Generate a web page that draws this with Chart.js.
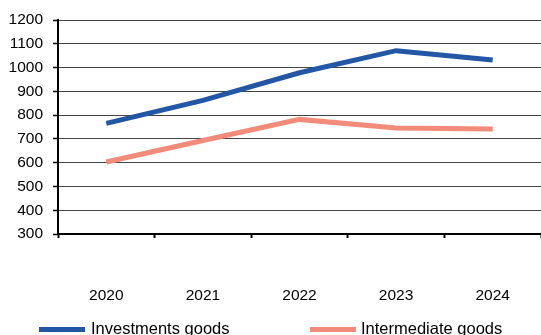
<!DOCTYPE html>
<html>
<head>
<meta charset="utf-8">
<script src="https://cdn.jsdelivr.net/npm/chart.js@4/dist/chart.umd.min.js"></script>
<style>
  html, body { margin: 0; padding: 0; background: #ffffff; }
  #wrap { width: 541px; height: 335px; overflow: hidden; }
</style>
</head>
<body>
<div id="wrap"><canvas id="c" width="541" height="335"></canvas></div>
<script>
// Goods categories by year
const years = ['2020', '2021', '2022', '2023', '2024'];
const investmentsGoods = [765, 862, 978, 1071, 1032];
const intermediateGoods = [603, 693, 782, 746, 742];
const seriesNames = ['Investments goods', 'Intermediate goods'];
const yMin = 300;
const yMax = 1200;
const yStep = 100;

const BLUE = '#2356a4';
const SALMON = '#f28b79';
const FONT = '"Liberation Sans", Arial, sans-serif';

// Legend drawn under the category labels, two entries spread across the width
const spreadLegend = {
  id: 'spreadLegend',
  afterDraw(chart) {
    const ctx = chart.ctx;
    const slots = [{ x: 39, text: 91 }, { x: 310, text: 361 }];
    ctx.save();
    chart.data.datasets.forEach((ds, i) => {
      const s = slots[i];
      ctx.fillStyle = ds.borderColor;
      ctx.fillRect(s.x, 327, 46, 5);
      ctx.fillStyle = '#000000';
      ctx.font = '16.5px ' + FONT;
      ctx.textBaseline = 'alphabetic';
      ctx.textAlign = 'left';
      ctx.fillText(ds.label, s.text, 334);
    });
    ctx.restore();
  }
};

new Chart(document.getElementById('c'), {
  type: 'line',
  data: {
    labels: years,
    datasets: [
      {
        label: seriesNames[0],
        data: investmentsGoods,
        borderColor: BLUE,
        backgroundColor: BLUE,
        borderWidth: 5,
        borderCapStyle: 'butt',
        pointRadius: 0,
        tension: 0,
        fill: false
      },
      {
        label: seriesNames[1],
        data: intermediateGoods,
        borderColor: SALMON,
        backgroundColor: SALMON,
        borderWidth: 5,
        borderCapStyle: 'butt',
        pointRadius: 0,
        tension: 0,
        fill: false
      }
    ]
  },
  options: {
    responsive: false,
    animation: false,
    devicePixelRatio: 1,
    layout: { padding: { top: 20, left: 9, right: -2, bottom: 30 } },
    plugins: {
      legend: { display: false },
      tooltip: { enabled: false }
    },
    scales: {
      x: {
        offset: true,
        afterFit(scale) {
          scale.height = 71;
          scale.paddingLeft = 0;
          scale.paddingRight = 0;
        },
        grid: {
          offset: true,
          drawOnChartArea: false,
          drawTicks: true,
          tickLength: 4,
          tickColor: '#000000',
          tickWidth: 2
        },
        border: { display: true, color: '#000000', width: 2 },
        ticks: {
          color: '#000000',
          font: { family: FONT, size: 15.5 },
          padding: 48,
          maxRotation: 0,
          autoSkip: false
        }
      },
      y: {
        min: yMin,
        max: yMax,
        afterFit(scale) {
          scale.width = 49;
          scale.paddingTop = 0;
          scale.paddingBottom = 0;
        },
        ticks: {
          stepSize: yStep,
          autoSkip: false,
          color: '#000000',
          font: { family: FONT, size: 15.5 },
          padding: 10,
          callback: (value) => String(value)
        },
        grid: {
          color: '#454545',
          lineWidth: 1,
          drawTicks: true,
          tickLength: 5,
          tickColor: '#000000',
          tickWidth: 1.5
        },
        border: { display: true, color: '#000000', width: 2 }
      }
    }
  },
  plugins: [spreadLegend]
});
</script>
</body>
</html>
